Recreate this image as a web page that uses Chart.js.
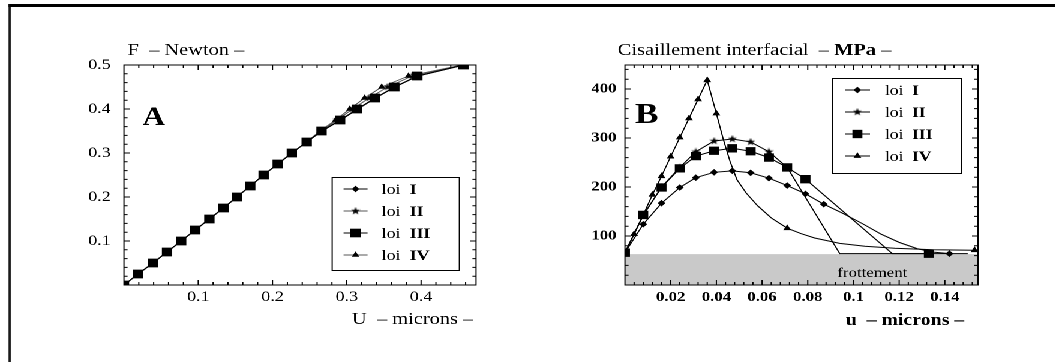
<!DOCTYPE html>
<html lang="fr">
<head>
<meta charset="UTF-8" />
<title>Lois I à IV : force et cisaillement interfacial</title>
<script src="https://cdn.jsdelivr.net/npm/chart.js"></script>
<style>
  html, body { margin: 0; padding: 0; background: #fff; }
  body { width: 1055px; height: 362px; overflow: hidden; position: relative; }
  /* the original figure is stretched horizontally, so the whole sheet is too */
  #sheet { position: absolute; left: 0; top: 0; width: 880px; height: 362px;
           transform: scaleX(1.2); transform-origin: 0 0; }
  .rule { position: absolute; background: #000; }
  #topRule  { left: 6.7px; top: 4px; width: 874px; height: 3px; }
  #leftRule { left: 6.7px; top: 4px; width: 2.5px; height: 358px; }
  .panel { position: absolute; top: 0; width: 440px; height: 362px; }
  #panelA { left: 0; }
  #panelB { left: 440px; }
</style>
</head>
<body>
<div id="sheet">
  <div class="rule" id="topRule"></div>
  <div class="rule" id="leftRule"></div>
  <div class="panel" id="panelA"><canvas id="chartA" width="440" height="362"></canvas></div>
  <div class="panel" id="panelB"><canvas id="chartB" width="440" height="362"></canvas></div>
</div>

<script>
  // ---------- A : force F (N) against displacement U (microns) ----------
  const forceA = [0, 0.025, 0.05, 0.075, 0.1, 0.125, 0.15, 0.175, 0.2, 0.225, 0.25,
                  0.275, 0.3, 0.325, 0.35, 0.375, 0.4, 0.425, 0.45, 0.475, 0.5];
  const dispA_I   = [0, 0.019, 0.039, 0.058, 0.077, 0.096, 0.115, 0.134, 0.152, 0.170, 0.188,
                     0.207, 0.226, 0.246, 0.267, 0.292, 0.315, 0.339, 0.365, 0.396, 0.458];
  const dispA_II  = [0, 0.019, 0.039, 0.058, 0.077, 0.096, 0.115, 0.134, 0.152, 0.170, 0.188,
                     0.207, 0.226, 0.246, 0.265, 0.287, 0.308, 0.330, 0.355, 0.388, 0.456];
  const dispA_III = [0, 0.019, 0.039, 0.058, 0.077, 0.096, 0.115, 0.134, 0.152, 0.170, 0.188,
                     0.207, 0.226, 0.246, 0.266, 0.291, 0.314, 0.338, 0.364, 0.395, 0.457];
  const dispA_IV  = [0, 0.019, 0.039, 0.058, 0.077, 0.096, 0.115, 0.134, 0.152, 0.170, 0.188,
                     0.207, 0.226, 0.246, 0.264, 0.285, 0.304, 0.324, 0.347, 0.383, 0.455];
  const xTicksA = [0.1, 0.2, 0.3, 0.4];
  const yTicksA = [0.1, 0.2, 0.3, 0.4, 0.5];

  // ---------- B : interfacial shear (MPa) against displacement u (microns) ----------
  // points carrying a symbol, then the plain curve points between them
  const dispB_I   = [0, 0.008, 0.016, 0.024, 0.031, 0.039, 0.047, 0.055, 0.063, 0.071, 0.079, 0.087, 0.142];
  const shearB_I  = [66, 124, 167, 199, 219, 230, 233, 229, 218, 203, 186, 165, 64];
  const dispB_I_curve  = [0.095, 0.104, 0.112, 0.120, 0.128, 0.135];
  const shearB_I_curve = [147, 125, 104, 87, 74, 67];

  const dispB_II  = [0, 0.008, 0.016, 0.024, 0.031, 0.039, 0.047, 0.055, 0.063, 0.071];
  const shearB_II = [66, 142, 200, 240, 272, 294, 298, 292, 272, 240];
  const dispB_II_curve  = [0.094, 0.150];
  const shearB_II_curve = [64, 64];

  const dispB_III  = [0, 0.008, 0.016, 0.024, 0.031, 0.039, 0.047, 0.055, 0.063, 0.071, 0.079, 0.133];
  const shearB_III = [66, 143, 199, 238, 263, 274, 279, 273, 260, 240, 216, 64];
  const dispB_III_curve  = [0.117];
  const shearB_III_curve = [64];

  const dispB_IV  = [0, 0.004, 0.008, 0.012, 0.016, 0.020, 0.024, 0.028, 0.032, 0.036, 0.040, 0.071, 0.153];
  const shearB_IV = [66, 104, 143, 184, 222, 262, 301, 340, 379, 418, 350, 116, 71];
  const dispB_IV_curve  = [0.043, 0.046, 0.049, 0.053, 0.058, 0.064, 0.077, 0.083, 0.094, 0.105, 0.118, 0.135];
  const shearB_IV_curve = [298, 252, 215, 188, 162, 137, 105, 96, 85, 79, 75, 72];

  const frictionB = 63;      // "frottement" level
  const frictionSpan = [0, 0.16];
  const xTicksB = [0.02, 0.04, 0.06, 0.08, 0.1, 0.12, 0.14];
  const yTicksB = [100, 200, 300, 400];

  const laws = ['I', 'II', 'III', 'IV'];

  const SERIF = '"Liberation Serif", "Times New Roman", serif';
  Chart.defaults.font.family = SERIF;
  Chart.defaults.color = '#000';

  // filled five-point star used as a point style
  function makeStar(size) {
    const c = document.createElement('canvas');
    c.width = size; c.height = size;
    const g = c.getContext('2d');
    const cx = size / 2, cy = size / 2, R = size / 2, r = R * 0.42;
    g.beginPath();
    for (let i = 0; i < 10; i++) {
      const rad = -Math.PI / 2 + i * Math.PI / 5;
      const rr = i % 2 ? r : R;
      g.lineTo(cx + Math.cos(rad) * rr, cy + Math.sin(rad) * rr);
    }
    g.closePath();
    g.fillStyle = '#000';
    g.fill();
    return c;
  }
  const star = makeStar(8);

  function pairs(xs, ys, marked) {
    return xs.map((x, i) => ({ x: x, y: ys[i], s: marked }));
  }
  function merged(xs, ys, cxs, cys) {
    return pairs(xs, ys, true).concat(pairs(cxs, cys, false)).sort((a, b) => a.x - b.x);
  }

  function richText(ctx, parts, x, y, size) {
    parts.forEach(([txt, bold]) => {
      ctx.font = (bold ? 'bold ' : '') + size + 'px ' + SERIF;
      ctx.fillText(txt, x, y);
      x += ctx.measureText(txt).width;
    });
  }

  // frame with inward major / minor ticks on all four sides
  const frameTicks = {
    id: 'frameTicks',
    afterDatasetsDraw(chart, args, o) {
      const { ctx, chartArea: a, scales: { x, y } } = chart;
      ctx.save();
      ctx.strokeStyle = '#000';
      ctx.lineWidth = 1;
      ctx.strokeRect(a.left, a.top, a.right - a.left, a.bottom - a.top);
      ctx.beginPath();
      const nx = Math.round((x.max - x.min) / o.xMinor);
      for (let i = 1; i <= nx; i++) {
        const v = x.min + i * o.xMinor;
        const px = x.getPixelForValue(v);
        if (px >= a.right - 0.5) continue;
        const q = v / o.xMajor;
        const len = Math.abs(q - Math.round(q)) < 1e-6 ? o.major : o.minor;
        ctx.moveTo(px, a.bottom); ctx.lineTo(px, a.bottom - len);
        ctx.moveTo(px, a.top); ctx.lineTo(px, a.top + len);
      }
      const ny = Math.round((y.max - y.min) / o.yMinor);
      for (let i = 1; i <= ny; i++) {
        const v = y.min + i * o.yMinor;
        const py = y.getPixelForValue(v);
        if (py <= a.top + 0.5) continue;
        const q = v / o.yMajor;
        const len = Math.abs(q - Math.round(q)) < 1e-6 ? o.major : o.minor;
        ctx.moveTo(a.left, py); ctx.lineTo(a.left + len, py);
        ctx.moveTo(a.right, py); ctx.lineTo(a.right - len, py);
      }
      ctx.stroke();
      ctx.restore();
    }
  };

  // axis captions, panel letter, band caption
  const captions = {
    id: 'captions',
    afterDraw(chart, args, o) {
      const { ctx, chartArea: a } = chart;
      ctx.save();
      ctx.fillStyle = '#000';
      ctx.textBaseline = 'alphabetic';
      o.items.forEach(it => richText(ctx, it.parts, a.left + it.dx, it.y, it.size));
      ctx.restore();
    }
  };

  // boxed legend: line sample + symbol + "loi <bold numeral>"
  const boxLegend = {
    id: 'boxLegend',
    afterDraw(chart, args, o) {
      const { ctx, chartArea: a } = chart;
      const left = a.left + o.dx, top = o.top;
      ctx.save();
      ctx.fillStyle = '#fff';
      ctx.fillRect(left, top, o.w, o.h);
      ctx.strokeStyle = '#000';
      ctx.lineWidth = 1;
      ctx.strokeRect(left + 0.5, top + 0.5, o.w, o.h);
      chart.data.datasets.filter(d => d.law).forEach((d, i) => {
        const y = top + o.firstRow + i * o.rowGap;
        ctx.beginPath();
        ctx.moveTo(left + o.lineFrom, y);
        ctx.lineTo(left + o.lineTo, y);
        ctx.strokeStyle = d.borderColor;
        ctx.lineWidth = d.borderWidth;
        ctx.stroke();
        ctx.fillStyle = '#000';
        Chart.helpers.drawPoint(ctx, { pointStyle: d.pointStyle, radius: d.symbolRadius, rotation: 0, borderWidth: 0 },
                                left + (o.lineFrom + o.lineTo) / 2, y);
        ctx.fillStyle = '#000';
        ctx.textBaseline = 'middle';
        richText(ctx, [['loi  ', false], [d.law, true]], left + o.textX, y + 1, o.size);
      });
      ctx.restore();
    }
  };

  function lineSet(law, data, style, radius, color, width, order) {
    return {
      law: law,
      data: data,
      borderColor: color,
      borderWidth: width,
      backgroundColor: '#000',
      pointStyle: style,
      symbolRadius: radius,
      pointRadius: ctx => (ctx.raw && ctx.raw.s === false ? 0 : radius),
      pointBackgroundColor: '#000',
      pointBorderWidth: 0,
      pointHoverRadius: 0,
      tension: 0,
      fill: false,
      order: order
    };
  }

  function axes(xMax, yMax, xTicks, yTicks, yWidth, xHeight, tickFont, xPad, yPad) {
    return {
      x: {
        type: 'linear', min: 0, max: xMax,
        grid: { display: false, drawTicks: false },
        border: { display: false },
        afterBuildTicks: s => { s.ticks = xTicks.map(v => ({ value: v })); },
        afterFit: s => { s.height = xHeight; },
        ticks: { font: tickFont, color: '#000', padding: xPad, maxRotation: 0, callback: v => String(v) }
      },
      y: {
        type: 'linear', min: 0, max: yMax,
        grid: { display: false, drawTicks: false },
        border: { display: false },
        afterBuildTicks: s => { s.ticks = yTicks.map(v => ({ value: v })); },
        afterFit: s => { s.width = yWidth; },
        ticks: { font: tickFont, color: '#000', padding: yPad, callback: v => String(v) }
      }
    };
  }

  // ---------- chart A ----------
  new Chart(document.getElementById('chartA'), {
    type: 'line',
    data: {
      datasets: [
        lineSet(laws[0], pairs(dispA_I, forceA, true), 'rectRot', 3.2, '#000', 1, 3),
        lineSet(laws[1], pairs(dispA_II, forceA, true), star, 3.5, '#555', 0.9, 2),
        lineSet(laws[2], pairs(dispA_III, forceA, true), 'rect', 6.1, '#000', 1, 0),
        lineSet(laws[3], pairs(dispA_IV, forceA, true), 'triangle', 3.6, '#555', 0.9, 1)
      ]
    },
    options: {
      responsive: false,
      animation: false,
      devicePixelRatio: 2,
      layout: { padding: { left: 0, right: 43.3, top: 65, bottom: 0 } },
      scales: axes(0.474, 0.5, xTicksA, yTicksA, 103.3, 77,
                   { size: 15, family: SERIF }, 3, 11),
      plugins: {
        legend: { display: false },
        tooltip: { enabled: false },
        frameTicks: { xMinor: 0.02, xMajor: 0.1, yMinor: 0.02, yMajor: 0.1, major: 5, minor: 3 },
        captions: {
          items: [
            { parts: [['F  – Newton –', false]], dx: 3, y: 55, size: 17 },
            { parts: [['U  – microns –', false]], dx: 190, y: 324, size: 17 },
            { parts: [['A', true]], dx: 15.5, y: 125, size: 26 }
          ]
        },
        boxLegend: { dx: 173, top: 177, w: 106, h: 93, firstRow: 12, rowGap: 22,
                     lineFrom: 10, lineTo: 30, textX: 41.6, size: 15 }
      }
    },
    plugins: [frameTicks, captions, boxLegend]
  });

  // ---------- chart B ----------
  new Chart(document.getElementById('chartB'), {
    type: 'line',
    data: {
      datasets: [
        {
          label: 'frottement',
          data: frictionSpan.map(x => ({ x: x, y: frictionB })),
          borderWidth: 0,
          borderColor: 'rgba(0,0,0,0)',
          backgroundColor: '#c9c9c9',
          pointRadius: 0,
          fill: 'origin',
          order: 10
        },
        lineSet(laws[0], merged(dispB_I, shearB_I, dispB_I_curve, shearB_I_curve), 'rectRot', 3.3, '#000', 1, 3),
        lineSet(laws[1], merged(dispB_II, shearB_II, dispB_II_curve, shearB_II_curve), star, 3.5, '#000', 1, 2),
        lineSet(laws[2], merged(dispB_III, shearB_III, dispB_III_curve, shearB_III_curve), 'rect', 5.9, '#000', 1, 0),
        lineSet(laws[3], merged(dispB_IV, shearB_IV, dispB_IV_curve, shearB_IV_curve), 'triangle', 3.8, '#000', 1, 1)
      ]
    },
    options: {
      responsive: false,
      animation: false,
      devicePixelRatio: 2,
      layout: { padding: { left: 0, right: 65, top: 65, bottom: 0 } },
      scales: axes(0.1545, 449, xTicksB, yTicksB, 80.8, 77,
                   { size: 14, weight: 'bold', family: SERIF }, 4, 7),
      plugins: {
        legend: { display: false },
        tooltip: { enabled: false },
        frameTicks: { xMinor: 0.004, xMajor: 0.02, yMinor: 20, yMajor: 100, major: 5, minor: 3 },
        captions: {
          items: [
            { parts: [['Cisaillement interfacial  – ', false], ['MPa', true], [' –', false]], dx: -6, y: 55, size: 17 },
            { parts: [['u  – microns –', true]], dx: 184, y: 325, size: 16.5 },
            { parts: [['B', true]], dx: 8.5, y: 123, size: 29 },
            { parts: [['frottement', false]], dx: 177, y: 277, size: 14 }
          ]
        },
        boxLegend: { dx: 172.2, top: 78, w: 108, h: 95, firstRow: 12, rowGap: 22,
                     lineFrom: 11, lineTo: 32, textX: 44.5, size: 14.5 }
      }
    },
    plugins: [frameTicks, captions, boxLegend]
  });
</script>
</body>
</html>
